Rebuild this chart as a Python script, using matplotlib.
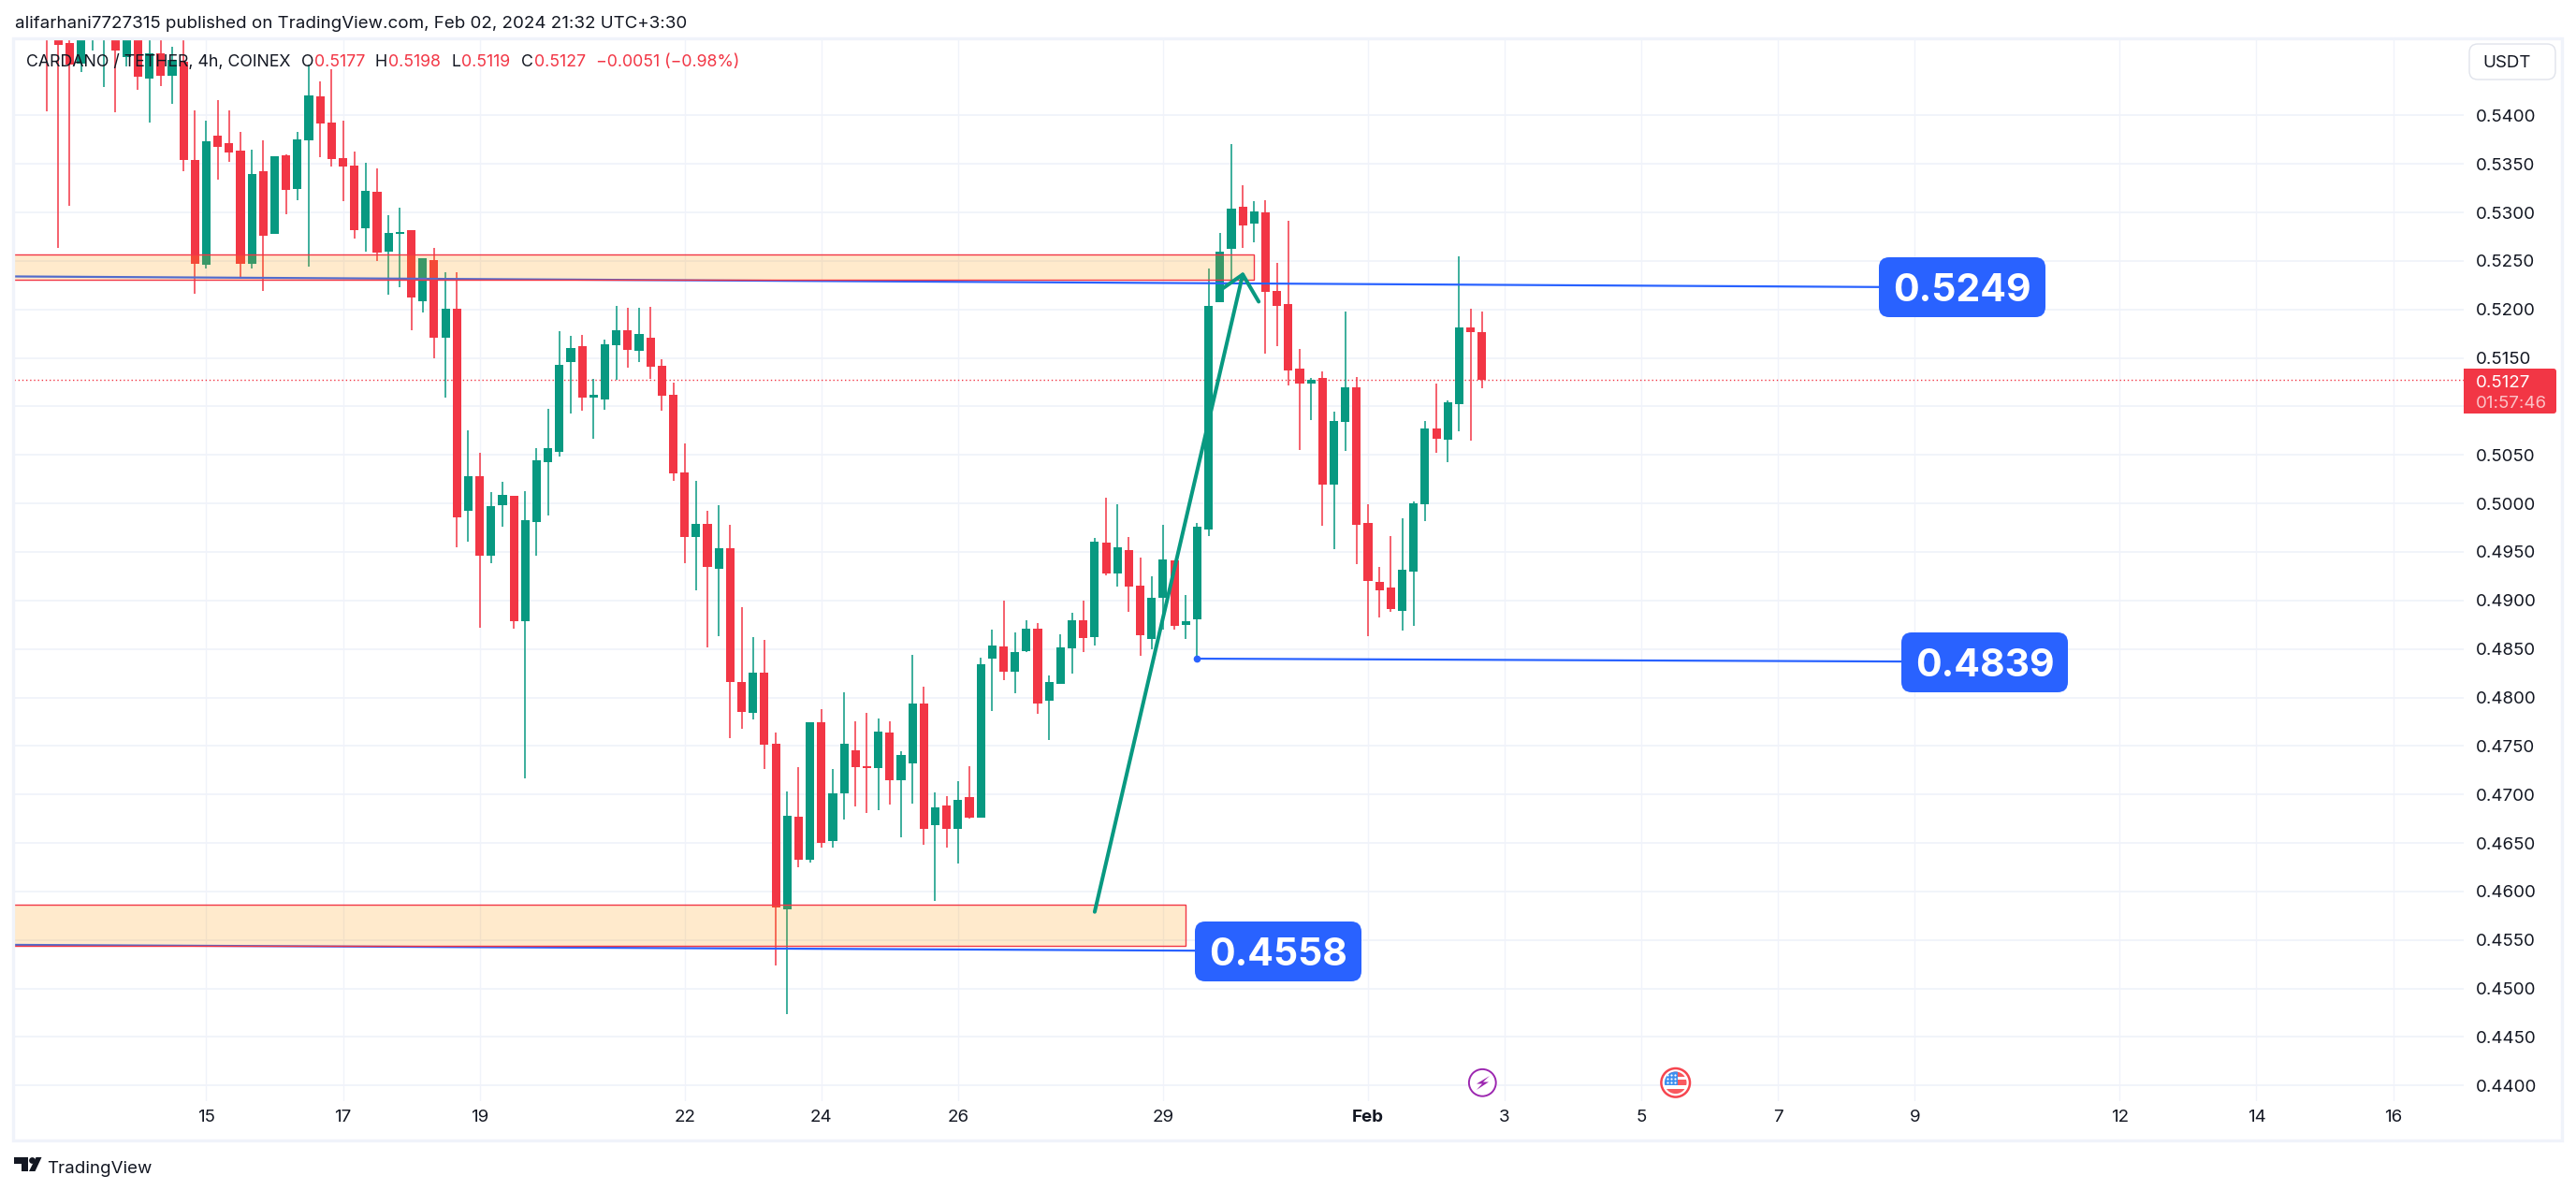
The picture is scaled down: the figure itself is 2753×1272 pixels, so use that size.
import matplotlib
matplotlib.use("Agg")
import matplotlib.pyplot as plt
from matplotlib.patches import FancyBboxPatch, Rectangle, Circle, Polygon

plt.rcParams['font.family'] = ['Inter', 'DejaVu Sans']

W, H = 2753, 1272
GREEN = '#089981'
RED = '#F23645'
BLUE = '#2962FF'
TEXT = '#131722'
GRID = '#F0F3FA'

# 4h candles, the first one sits 14 bars left of "15"
first_bar = -14

opens = [
    .5495, .5490, .5475, .5453, .5485, .5485, .5495, .5460, .5490, .5438,
    .5464, .5441, .5455, .5354, .5246, .5379, .5371, .5364, .5247, .5342,
    .5278, .5359, .5324, .5374, .5420, .5393, .5356, .5348, .5284, .5321,
    .5260, .5278, .5282, .5208, .5251, .5171, .5201, .4992, .5028, .4946,
    .4998, .5008, .4879, .4981, .5043, .5053, .5146, .5162, .5109, .5107,
    .5163, .5179, .5157, .5171, .5142, .5112, .5032, .4965, .4979, .4933,
    .4954, .4816, .4784, .4826, .4752, .4582, .4677, .4633, .4774, .4652,
    .4701, .4746, .4729, .4727, .4764, .4715, .4732, .4794, .4668, .4689,
    .4665, .4697, .4676, .4840, .4853, .4827, .4848, .4871, .4797, .4814,
    .4851, .4880, .4862, .4960, .4928, .4952, .4915, .4860, .4903, .4941,
    .4875, .4881, .4973, .5207, .5262, .5306, .5288, .5300, .5219, .5206,
    .5139, .5124, .5129, .5019, .5084, .5120, .4980, .4919, .4913, .4889,
    .4930, .4999, .5077, .5066, .5102, .5181, .5177,
]
highs = [
    .5500, .5495, .5490, .5495, .5500, .5500, .5500, .5495, .5495, .5485,
    .5485, .5471, .5490, .5405, .5395, .5416, .5405, .5383, .5365, .5374,
    .5358, .5360, .5383, .5452, .5435, .5448, .5395, .5363, .5351, .5345,
    .5297, .5305, .5282, .5253, .5263, .5238, .5238, .5075, .5052, .5012,
    .5022, .5008, .5013, .5057, .5098, .5178, .5173, .5174, .5128, .5169,
    .5204, .5202, .5202, .5203, .5149, .5125, .5062, .5023, .4992, .4998,
    .4978, .4893, .4862, .4859, .4764, .4703, .4728, .4774, .4788, .4726,
    .4805, .4775, .4784, .4778, .4775, .4745, .4844, .4811, .4702, .4698,
    .4714, .4729, .4841, .4870, .4900, .4867, .4880, .4877, .4823, .4865,
    .4887, .4900, .4964, .5006, .4999, .4965, .4944, .4925, .4978, .4941,
    .4906, .4980, .5242, .5279, .5370, .5328, .5312, .5313, .5248, .5291,
    .5159, .5129, .5136, .5095, .5198, .5130, .4999, .4935, .4966, .4985,
    .5002, .5085, .5124, .5106, .5255, .5201, .5198,
]
lows = [
    .5404, .5263, .5307, .5445, .5467, .5429, .5403, .5450, .5426, .5393,
    .5430, .5412, .5342, .5216, .5242, .5334, .5352, .5232, .5242, .5219,
    .5278, .5298, .5313, .5244, .5357, .5347, .5312, .5273, .5260, .5250,
    .5215, .5223, .5179, .5197, .5150, .5109, .4955, .4961, .4872, .4938,
    .4976, .4871, .4717, .4946, .4988, .5048, .5093, .5096, .5067, .5097,
    .5127, .5140, .5146, .5128, .5096, .5023, .4938, .4910, .4852, .4863,
    .4758, .4768, .4777, .4726, .4524, .4474, .4625, .4630, .4645, .4645,
    .4674, .4688, .4681, .4684, .4690, .4656, .4691, .4648, .4590, .4645,
    .4629, .4675, .4676, .4786, .4818, .4804, .4847, .4783, .4756, .4814,
    .4825, .4847, .4854, .4926, .4914, .4888, .4843, .4850, .4870, .4870,
    .4860, .4840, .4966, .5207, .5228, .5263, .5269, .5154, .5162, .5122,
    .5055, .5086, .4977, .4953, .5054, .4937, .4863, .4882, .4888, .4869,
    .4874, .4982, .5052, .5043, .5074, .5065, .5119,
]
closes = [
    .5488, .5473, .5452, .5490, .5495, .5495, .5467, .5490, .5440, .5464,
    .5441, .5457, .5354, .5247, .5373, .5368, .5362, .5247, .5340, .5276,
    .5358, .5323, .5375, .5421, .5392, .5355, .5347, .5282, .5322, .5259,
    .5279, .5280, .5212, .5253, .5171, .5201, .4986, .5028, .4946, .4997,
    .5009, .4879, .4983, .5044, .5057, .5143, .5160, .5109, .5112, .5164,
    .5179, .5158, .5175, .5141, .5111, .5031, .4965, .4979, .4935, .4954,
    .4816, .4785, .4826, .4751, .4584, .4678, .4633, .4774, .4650, .4701,
    .4752, .4728, .4727, .4765, .4715, .4741, .4794, .4665, .4687, .4665,
    .4694, .4676, .4834, .4854, .4827, .4847, .4871, .4794, .4816, .4852,
    .4880, .4861, .4961, .4928, .4955, .4914, .4864, .4903, .4942, .4874,
    .4879, .4976, .5204, .5260, .5304, .5287, .5301, .5218, .5204, .5137,
    .5124, .5127, .5019, .5085, .5120, .4978, .4920, .4910, .4891, .4932,
    .5000, .5077, .5067, .5104, .5181, .5177, .5127,
]

date_bars = [0, 12, 24, 42, 54, 66, 84, 102, 114, 126, 138, 150, 168, 180, 192]
date_labels = ['15', '17', '19', '22', '24', '26', '29', 'Feb', '3', '5', '7', '9', '12', '14', '16']

price_ticks = [.44, .445, .45, .455, .46, .465, .47, .475, .48, .485, .49, .495,
               .50, .505, .51, .515, .52, .525, .53, .535, .54]
last_price = 0.5127

# drawings on the chart
zone_upper = (0.5231, 0.5257, 92)  # low, high, right bar
zone_lower = (0.4544, 0.4586, 86)
line_upper_x, line_upper_y = [-17, 147.9], [0.5234, 0.5223]
line_middle_x, line_middle_y = [87, 149.8], [0.4840, 0.4837]
line_lower_x, line_lower_y = [-17, 86.8], [0.4545, 0.4539]
trend_x, trend_y = [78, 91], [0.4579, 0.5236]
head_x, head_y = [88.8, 91, 92.4], [0.5218, 0.5236, 0.5208]

fig = plt.figure(figsize=(W / 100, H / 100), dpi=100, facecolor='white')

# plot pane in pixels: x 15..2633, y 41..1177
left, right, top, bottom = 15, 2633, 41, 1177
ax = fig.add_axes([left / W, 1 - bottom / H, (right - left) / W, (bottom - top) / H])
ax.set_xlim(-16.88, 198.2)
ax.set_ylim(0.43839, 0.54794)
for s in ax.spines.values():
    s.set_visible(False)

ax.set_xticks(date_bars)
ax.set_xticklabels(date_labels)
ax.set_yticks(price_ticks)
ax.set_yticklabels(['' if p == .51 else f'{p:.4f}' for p in price_ticks])
ax.yaxis.tick_right()
ax.tick_params(axis='y', length=0, pad=9.4, labelsize=13.5, labelcolor=TEXT)
ax.tick_params(axis='x', length=0, pad=6.5, labelsize=13.5, labelcolor=TEXT)
ax.xaxis.get_ticklabels()[date_labels.index('Feb')].set_fontweight('bold')
ax.grid(True, axis='y', color=GRID, linewidth=1.3)
ax.grid(True, axis='x', color=GRID, linewidth=1.0)
ax.set_axisbelow(True)

ax.axhline(last_price, color=RED, linewidth=1.0, linestyle=(0, (1, 2)), zorder=1.5)

# candles
bars = list(range(first_bar, first_bar + len(opens)))
colors = [GREEN if c >= o else RED for o, c in zip(opens, closes)]
ax.vlines(bars, lows, highs, colors=colors, linewidth=1.1, zorder=2)
ax.bar(bars, [abs(c - o) for o, c in zip(opens, closes)],
       bottom=[min(o, c) for o, c in zip(opens, closes)],
       width=0.75, color=colors, linewidth=0, zorder=3)

# levels sit under the zones, the red edge shows on top of the blue
ax.plot(line_upper_x, line_upper_y, color=BLUE, linewidth=1.6, zorder=3.5)
ax.plot(line_middle_x, line_middle_y, color=BLUE, linewidth=1.6, zorder=3.5)
ax.plot(line_lower_x, line_lower_y, color=BLUE, linewidth=1.6, zorder=3.5)
ax.plot(line_middle_x[0], line_middle_y[0], 'o', color=BLUE, markersize=4.5, zorder=6)

# supply / demand zones
for low, high, end in [zone_upper, zone_lower]:
    ax.add_patch(Rectangle((-18, low), end + 18, high - low, facecolor='#FF9800', alpha=0.2,
                           linewidth=0, zorder=4))
    ax.add_patch(Rectangle((-18, low), end + 18, high - low, facecolor='none', edgecolor=RED,
                           linewidth=1.0, zorder=4))

# hand drawn path
ax.plot(trend_x, trend_y, color=GREEN, linewidth=2.9, solid_capstyle='round', zorder=6)
ax.plot(head_x, head_y, color=GREEN, linewidth=2.9, solid_capstyle='round',
        solid_joinstyle='round', zorder=6)

# everything else is page furniture, placed in pixels
ov = fig.add_axes([0, 0, 1, 1], facecolor='none')
ov.set_xlim(0, W)
ov.set_ylim(H, 0)
ov.axis('off')
ov.add_patch(Rectangle((14, 41), 2724, 1177.5, fill=False, edgecolor=GRID, linewidth=2.4))


def tag(x0, y0, x1, y1, color, rounding, **kw):
    p = FancyBboxPatch((x0 + rounding, y0 + rounding), x1 - x0 - 2 * rounding, y1 - y0 - 2 * rounding,
                       boxstyle=f'round,pad={rounding},rounding_size={rounding}',
                       facecolor=color, **kw)
    ov.add_patch(p)


# value labels
for text, x0, xc, yc in [('0.5249', 2008, 2097, 307), ('0.4839', 2032, 2121, 708), ('0.4558', 1277, 1366, 1017)]:
    tag(x0, yc - 32, x0 + 178, yc + 32, BLUE, 11, linewidth=0, zorder=8)
    ov.text(xc, yc, text, color='white', fontsize=29.5, fontweight='bold', ha='center', va='center_baseline', zorder=9)

# header and legend
ov.text(15.5, 23.5, 'alifarhani7727315 published on TradingView.com, Feb 02, 2024 21:32 UTC+3:30',
        color=TEXT, fontsize=13.5, va='center_baseline')
ov.text(27.5, 64.5, 'CARDANO / TETHER, 4h, COINEX', color=TEXT, fontsize=12.8, va='center_baseline')
for text, x, col in [('O', 322, TEXT), ('0.5177', 336, RED), ('H', 401, TEXT), ('0.5198', 415, RED),
                     ('L', 483, TEXT), ('0.5119', 493, RED), ('C', 557.5, TEXT), ('0.5127', 571, RED),
                     ('\u22120.0051 (\u22120.98%)', 637, RED)]:
    ov.text(x, 64.5, text, color=col, fontsize=12.8, va='center_baseline')

# currency button
tag(2639, 47, 2731, 85, 'white', 9, edgecolor='#E0E3EB', linewidth=1.0)
ov.text(2653, 65.5, 'USDT', color=TEXT, fontsize=13.5, va='center_baseline')

# last price tag
tag(2633, 394, 2732, 442, RED, 3, linewidth=0)
ov.add_patch(Rectangle((2633, 394), 10, 48, facecolor=RED, linewidth=0))
ov.text(2646, 408, '0.5127', color='white', fontsize=13.5, va='center_baseline')
ov.text(2646, 429, '01:57:46', color='white', alpha=0.7, fontsize=13.5, va='center_baseline')

# TradingView logo
ov.add_patch(Polygon([(14.5, 1237), (30, 1237), (30, 1252), (23, 1252), (23, 1244), (14.5, 1244)],
                     facecolor=TEXT, linewidth=0))
ov.add_patch(Circle((34.5, 1240.5), 3.4, facecolor=TEXT, linewidth=0))
ov.add_patch(Polygon([(38.5, 1237), (44.5, 1237), (37.5, 1252), (31, 1252)], facecolor=TEXT, linewidth=0))
ov.text(50.5, 1247, 'TradingView', color=TEXT, fontsize=13.5, va='center_baseline')

# earnings style event: purple bolt
ov.add_patch(Circle((1584.3, 1157.3), 14.4, facecolor='white', edgecolor='#9C27B0', linewidth=1.4, zorder=8))
ov.add_patch(Polygon([(1592, 1150), (1578, 1158.5), (1584, 1158.5), (1578, 1165), (1591, 1156.5),
                      (1585, 1156.5)], facecolor='#9C27B0', linewidth=0, zorder=9))

# US flag event
ov.add_patch(Circle((1790.7, 1157.3), 15.3, facecolor='white', edgecolor='#F6454F', linewidth=1.8, zorder=8))
clip = Circle((1790.7, 1157.3), 11.8, transform=ov.transData)
for x, y, w, h, c in [(1778, 1145, 26, 6, '#F9595F'), (1790, 1153.5, 14, 6, '#F9595F'),
                      (1778, 1163.5, 26, 7, '#F9595F'), (1778, 1145, 14.5, 14.5, '#3D8FEF')]:
    r = Rectangle((x, y), w, h, facecolor=c, linewidth=0, zorder=9)
    ov.add_patch(r)
    r.set_clip_path(clip)
for y in (1148.5, 1152.5, 1156.5):
    ov.scatter([1781.5, 1785.5, 1789.5], [y] * 3, s=2.5, color='white', linewidth=0, zorder=10)

fig.savefig('out.png', dpi=100)
